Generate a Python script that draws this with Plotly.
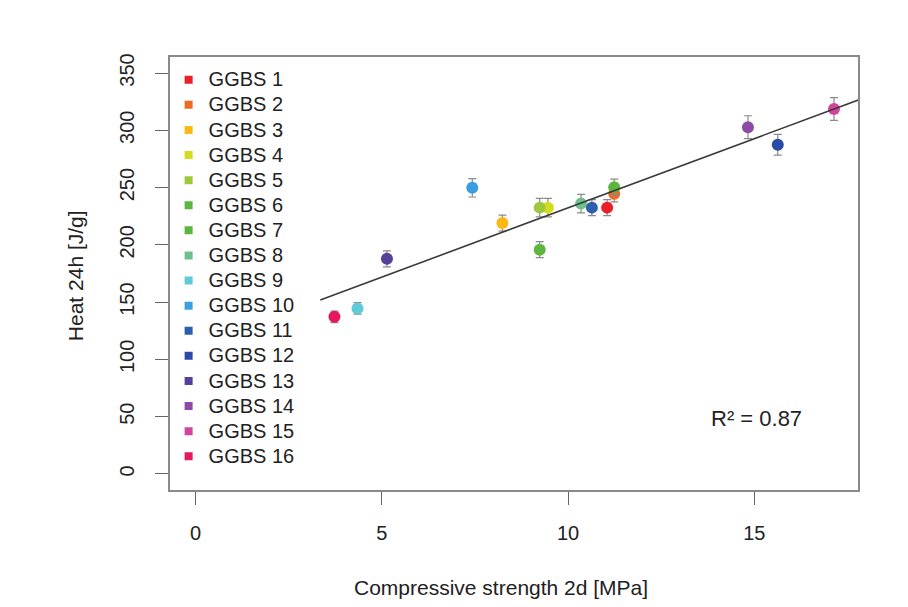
import numpy as np
import plotly.graph_objects as go

labels = ["GGBS %d" % i for i in range(1, 17)]
strength_2d = [11.05, 11.24, 8.24, 9.46, 9.24, 9.24, 11.24, 10.35, 4.35, 7.43, 10.64, 15.63, 5.14, 14.83, 17.14, 3.73]
heat_24h = [232.5, 244.6, 219.0, 232.5, 232.5, 195.8, 250.4, 236.0, 144.5, 249.8, 232.5, 287.4, 187.8, 302.7, 318.6, 137.2]
heat_err = [7, 7, 7, 8, 8, 7, 7, 8, 5, 8, 7, 9, 7, 10, 10, 5]
colors = ["#e8202a", "#ee6a24", "#fdb813", "#d5dc1e", "#9cc83c", "#5db63d", "#5bb53f", "#6ebf8b",
          "#5fcbd9", "#3a9ee0", "#2d5fae", "#2b4aa7", "#573f9c", "#8e4ba5", "#d2449c", "#e6175a"]
fit_x_span = [3.35, 18.5]
r2_text = "R² = 0.87"
x_title = "Compressive strength 2d [MPa]"
y_title = "Heat 24h [J/g]"
x_ticks = [0, 5, 10, 15]
y_ticks = [0, 50, 100, 150, 200, 250, 300, 350]

FONT = "Liberation Sans, Arial, sans-serif"
TXT = "#222"
fig = go.Figure()

for i in range(len(labels)):
    fig.add_trace(go.Scatter(
        x=[strength_2d[i]], y=[heat_24h[i]], mode="markers",
        marker=dict(color=colors[i], size=12, symbol="circle", line=dict(width=0)),
        error_y=dict(type="data", array=[heat_err[i]], color="#8a8a8a", thickness=1.2, width=4),
        showlegend=False, hoverinfo="skip"))

slope, intercept = np.polyfit(np.array(strength_2d), np.array(heat_24h), 1)
fx = np.array(fit_x_span)
fig.add_trace(go.Scatter(x=fx, y=slope * fx + intercept, mode="lines",
                         line=dict(color="#3a3a3a", width=1.6), showlegend=False, hoverinfo="skip"))

for i in range(len(labels)):
    fig.add_trace(go.Scatter(
        x=[None], y=[None], mode="markers",
        name='<span style="font-size:20px">%s</span>' % labels[i],
        marker=dict(color=colors[i], size=8, symbol="square")))

fig.add_annotation(x=0.853, y=0.166, xref="paper", yref="paper", text=r2_text, showarrow=False,
                   xanchor="center", yanchor="middle",
                   font=dict(family=FONT, size=22, color=TXT))
fig.add_annotation(x=0.481, y=-0.226, xref="paper", yref="paper", text=x_title, showarrow=False,
                   xanchor="center", yanchor="middle",
                   font=dict(family=FONT, size=21, color=TXT))
fig.add_annotation(x=-0.138, y=0.494, xref="paper", yref="paper", text=y_title, showarrow=False,
                   xanchor="center", yanchor="middle", textangle=-90,
                   font=dict(family=FONT, size=21, color=TXT))

fig.update_layout(
    width=908, height=607,
    margin=dict(l=162, r=58, t=49, b=125),
    paper_bgcolor="white", plot_bgcolor="white",
    font=dict(family=FONT, size=20, color=TXT),
    legend=dict(x=-0.002, y=0.988, xanchor="left", yanchor="top", bgcolor="rgba(0,0,0,0)",
                maxheight=520,
                font=dict(family=FONT, size=17, color=TXT), itemclick=False),
    xaxis=dict(range=[-0.684, 17.784], tickvals=x_ticks, ticks="outside", ticklen=13, tickwidth=1.2,
               tickcolor="#666", showgrid=False, zeroline=False, showline=True, mirror=True,
               linecolor="#8a8a8a", linewidth=1.5, ticklabelstandoff=11,
               tickfont=dict(family=FONT, size=20, color=TXT)),
    yaxis=dict(range=[-14, 364], tickvals=y_ticks, ticks="outside", ticklen=13, tickwidth=1.2,
               tickcolor="#666", showgrid=False, zeroline=False, showline=True, mirror=True,
               linecolor="#8a8a8a", linewidth=1.5, tickangle=-90, ticklabelstandoff=13,
               tickfont=dict(family=FONT, size=20, color=TXT)),
)

fig.write_html("out.html")
